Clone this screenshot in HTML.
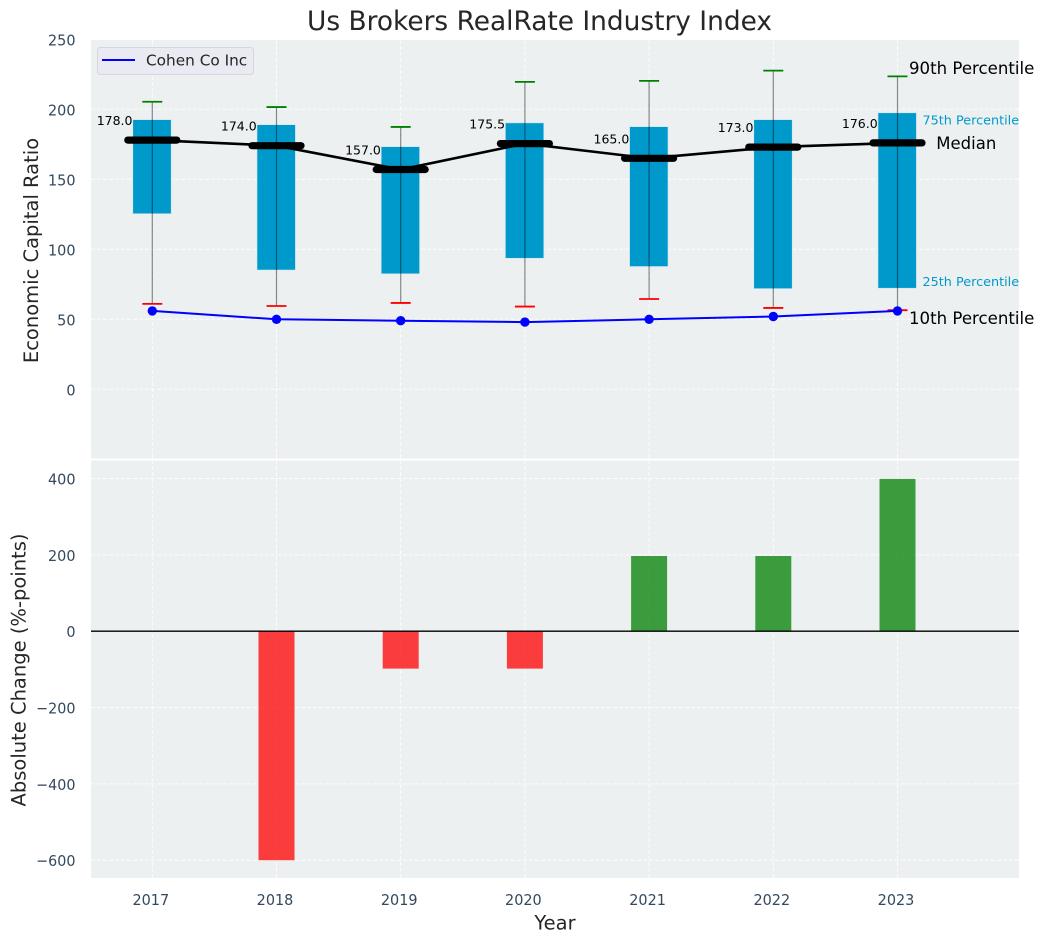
<!DOCTYPE html>
<html lang="en">
<head>
<meta charset="utf-8">
<title>Us Brokers RealRate Industry Index</title>
<style>
html,body{margin:0;padding:0;background:#fff;width:1044px;height:942px;overflow:hidden}
svg{display:block}
text{font-family:"DejaVu Sans","Liberation Sans",sans-serif}
</style>
</head>
<body>
<svg id="chart" xmlns="http://www.w3.org/2000/svg" width="1044" height="942" viewBox="0 0 1044 942"></svg>
<script>
const years = [2017, 2018, 2019, 2020, 2021, 2022, 2023];
const p90 = [205.4, 201.6, 187.4, 219.6, 220.3, 227.6, 223.5];
const p75 = [192.6, 189, 173.3, 190.3, 187.6, 192.6, 197.5];
const median = [178, 174, 157, 175.5, 165, 173, 176];
const p25 = [125.4, 85.2, 82.5, 93.6, 87.7, 71.9, 72.2];
const p10 = [61, 59.5, 61.7, 59.1, 64.5, 58.1, 56.5];
const cohen = [56, 50, 49, 48, 50, 52, 56];
const change = [0, -600, -98, -98, 197, 197, 399];
const medianLabels = ['178.0', '174.0', '157.0', '175.5', '165.0', '173.0', '176.0'];
const topTicks = [0, 50, 100, 150, 200, 250];
const bottomTicks = [-600, -400, -200, 0, 200, 400];

const NS = 'http://www.w3.org/2000/svg';
const svg = document.getElementById('chart');
const PL = 91, PR = 1019, TT = 40, TB = 459, BT = 460, BB = 878;
const xAxis = y => 152.3 + (y - 2017) * 124.2;
const yTop = v => 389.3 - v * 1.4;
const yBot = v => 631.2 - v * 0.3817;
const fmt = v => String(v).replace('-', '\u2212');
const tickLen = s => s.replace('\u2212', '').length * 9.17 + (s.charAt(0) === '\u2212' ? 11.8 : 0);

function mk(tag, attrs, parent) {
  const el = document.createElementNS(NS, tag);
  for (const k in attrs) el.setAttribute(k, attrs[k]);
  (parent || svg).appendChild(el);
  return el;
}
function txt(content, attrs, parent) {
  const el = mk('text', attrs, parent);
  el.textContent = content;
  return el;
}
function tick(content, attrs) {
  const el = txt(content, attrs);
  el.setAttribute('font-size', 15.5);
  el.setAttribute('fill', '#34495e');
  el.setAttribute('textLength', tickLen(content));
  el.setAttribute('lengthAdjust', 'spacingAndGlyphs');
  return el;
}

/* panels */
const topPanel = mk('rect', {x: PL, y: TT, width: PR - PL, height: TB - TT, fill: '#ecf0f1'});


const bottomPanel = mk('rect', {x: PL, y: BT, width: PR - PL, height: BB - BT, fill: '#ecf0f1'});



/* grid */
const grid = mk('g', {stroke: '#fff', 'stroke-width': 1, 'stroke-dasharray': '4 2', opacity: 0.85});


years.forEach(y => {
  mk('line', {x1: xAxis(y), x2: xAxis(y), y1: TT, y2: TB}, grid);
  mk('line', {x1: xAxis(y), x2: xAxis(y), y1: BT, y2: BB}, grid);
});
topTicks.forEach(v => mk('line', {x1: PL, x2: PR, y1: yTop(v), y2: yTop(v)}, grid));
bottomTicks.forEach(v => mk('line', {x1: PL, x2: PR, y1: yBot(v), y2: yBot(v)}, grid));

/* panel divider */
const divider = mk('line', {x1: PL, x2: PR, y1: 459.5, y2: 459.5, stroke: '#fff', 'stroke-width': 2});



/* tick labels */
topTicks.forEach(v => {
  const t = tick(fmt(v), {x: 75.5, y: yTop(v) + 6, 'text-anchor': 'end'});
  
  
});
bottomTicks.forEach(v => {
  const t = tick(fmt(v), {x: 75.5, y: yBot(v) + 6, 'text-anchor': 'end'});
  
  
});
years.forEach(y => {
  const t = tick(String(y), {x: xAxis(y) - 1.5, y: 905, 'text-anchor': 'middle'});
  
  
});

/* boxes */
years.forEach((y, i) => {
  const box = mk('rect', {x: xAxis(y) - 19.5, y: yTop(p75[i]), width: 38.4, height: yTop(p25[i]) - yTop(p75[i]), fill: '#0099cc', stroke: '#cfe6ef', 'stroke-width': 0.6});
  
  
});

/* whiskers and caps */
years.forEach((y, i) => {
  const w = mk('line', {x1: xAxis(y), x2: xAxis(y), y1: yTop(p90[i]), y2: yTop(p10[i]), stroke: '#000', 'stroke-opacity': 0.45, 'stroke-width': 1.2});
  
  
  const hi = mk('line', {x1: xAxis(y) - 10, x2: xAxis(y) + 10, y1: yTop(p90[i]), y2: yTop(p90[i]), stroke: '#008000', 'stroke-width': 1.8});
  
  
  const lo = mk('line', {x1: xAxis(y) - 10, x2: xAxis(y) + 10, y1: yTop(p10[i]), y2: yTop(p10[i]), stroke: '#ff0000', 'stroke-width': 1.8});
  
  
});

/* median line */
const medLine = mk('polyline', {points: years.map((y, i) => xAxis(y) + ',' + yTop(median[i])).join(' '), fill: 'none', stroke: '#000', 'stroke-width': 2.6});


years.forEach((y, i) => {
  const m = mk('line', {x1: xAxis(y) - 24.5, x2: xAxis(y) + 24.5, y1: yTop(median[i]), y2: yTop(median[i]), stroke: '#000', 'stroke-width': 7.2, 'stroke-linecap': 'round'});
  
  
  const t = txt(medianLabels[i], {x: xAxis(y) - 19.8, y: yTop(median[i]) - 15, 'text-anchor': 'end', 'font-size': 12.5, fill: '#000'});
  
  
});

/* company line */
const cohenLine = mk('polyline', {points: years.map((y, i) => xAxis(y) + ',' + yTop(cohen[i])).join(' '), fill: 'none', stroke: '#0000ff', 'stroke-width': 2});


years.forEach((y, i) => {
  const p = mk('circle', {cx: xAxis(y), cy: yTop(cohen[i]), r: 4.7, fill: '#0000ff'});
  
  
});

/* annotations (anchored to last year's values) */
const lastX = xAxis(years[years.length - 1]);
const last = years.length - 1;
const a90 = txt('90th Percentile', {x: lastX + 11.5, y: yTop(p90[last]) - 2.5, 'font-size': 16.6, fill: '#000'});


const a75 = txt('75th Percentile', {x: lastX + 25, y: yTop(p75[last]) + 11.5, 'font-size': 12.8, fill: '#0099cc'});


const aMed = txt('Median', {x: lastX + 38.8, y: yTop(median[last]) + 6, 'font-size': 16.5, fill: '#000'});


const a25 = txt('25th Percentile', {x: lastX + 25, y: yTop(p25[last]) - 2.2, 'font-size': 12.8, fill: '#0099cc'});


const a10 = txt('10th Percentile', {x: lastX + 11.5, y: yTop(p10[last]) + 13.8, 'font-size': 16.6, fill: '#000'});



/* bars */
years.forEach((y, i) => {
  if (change[i] === 0) return;
  const v = change[i];
  const b = mk('rect', {x: xAxis(y) - 18, y: Math.min(yBot(v), yBot(0)), width: 36, height: Math.abs(yBot(v) - yBot(0)), fill: v < 0 ? '#ff0000' : '#008000', 'fill-opacity': 0.75});
  
  
});
const zero = mk('line', {x1: PL, x2: PR, y1: yBot(0), y2: yBot(0), stroke: '#000', 'stroke-width': 1.3});



/* legend */
const legend = mk('g', {});


mk('rect', {x: 97.5, y: 47.5, width: 156, height: 27, rx: 3, fill: '#eaeaf2', stroke: '#d6d6de', 'stroke-width': 1}, legend);
mk('line', {x1: 102, x2: 135, y1: 60, y2: 60, stroke: '#0000ff', 'stroke-width': 2}, legend);
const legendText = txt('Cohen Co Inc', {x: 146, y: 65.7, 'font-size': 15.3, fill: '#262626'}, legend);



/* titles */
const title = txt('Us Brokers RealRate Industry Index', {x: 539.5, y: 30, 'text-anchor': 'middle', 'font-size': 26.4, fill: '#262626'});


const xTitle = txt('Year', {x: 555, y: 929.3, 'text-anchor': 'middle', 'font-size': 19.5, fill: '#262626'});


const yTitleTop = txt('Economic Capital Ratio', {x: 0, y: 0, transform: 'translate(38,250.5) rotate(-90)', 'text-anchor': 'middle', 'font-size': 19.5, fill: '#262626'});


const yTitleBot = txt('Absolute Change (%-points)', {x: 0, y: 0, transform: 'translate(25.5,670) rotate(-90)', 'text-anchor': 'middle', 'font-size': 19.5, fill: '#262626'});


</script>
</body>
</html>
